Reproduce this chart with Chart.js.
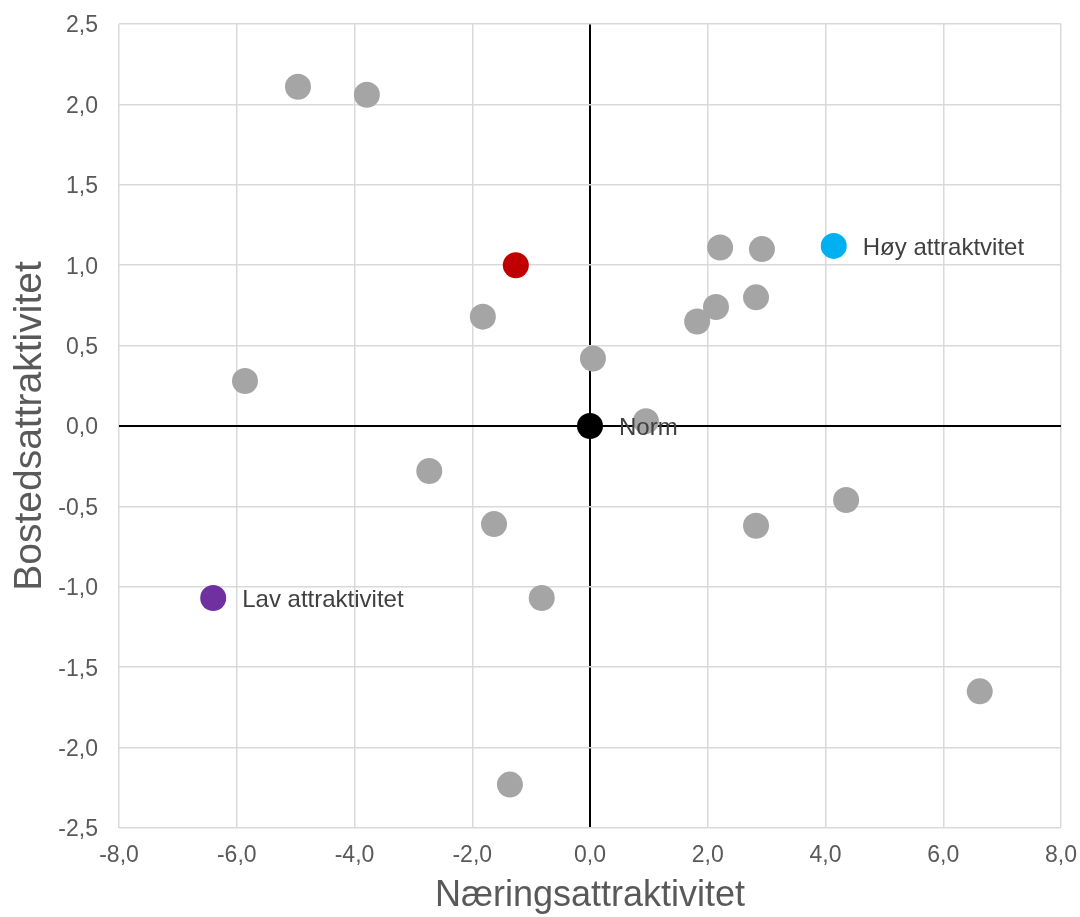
<!DOCTYPE html>
<html>
<head>
<meta charset="utf-8">
<script src="https://cdn.jsdelivr.net/npm/chart.js@4.4.1/dist/chart.umd.min.js"></script>
<style>
  html, body { margin: 0; padding: 0; background: #fff; }
  #wrap { width: 1080px; height: 917px; }
</style>
</head>
<body>
<div id="wrap"><canvas id="myChart" width="1080" height="917"></canvas></div>
<script>
// kommuner (grå punkter)
const grayX = [-4.96, -3.79, 2.21, 2.92, -1.82, 2.14, 2.82, 1.82, 0.05, -5.86, 0.95, -2.73, 4.35, -1.63, 2.82, -0.82, 6.62, -1.36];
const grayY = [2.11, 2.06, 1.11, 1.10, 0.68, 0.74, 0.80, 0.65, 0.42, 0.28, 0.03, -0.28, -0.46, -0.61, -0.62, -1.07, -1.65, -2.23];

// markerte punkter
const markNames = ["", "Norm", "Høy attraktvitet", "Lav attraktivitet"];
const markX = [-1.26, 0, 4.14, -6.40];
const markY = [1.00, 0, 1.12, -1.07];
const markColors = ["#C00000", "#000000", "#00B0F0", "#7030A0"];

const xTicks = [-8, -6, -4, -2, 0, 2, 4, 6, 8];
const yTicks = [-2.5, -2, -1.5, -1, -0.5, 0, 0.5, 1, 1.5, 2, 2.5];

const fontFam = "'Liberation Sans', Arial, sans-serif";

const grayPoints = grayX.map((x, i) => ({ x: x, y: grayY[i] }));
const markPoints = markX.map((x, i) => ({ x: x, y: markY[i], name: markNames[i] }));

const pointLabels = {
  id: "pointLabels",
  afterDatasetsDraw(chart) {
    const ctx = chart.ctx;
    const meta = chart.getDatasetMeta(0);
    ctx.save();
    ctx.font = "24px " + fontFam;
    ctx.fillStyle = "#404040";
    ctx.textAlign = "left";
    ctx.textBaseline = "middle";
    meta.data.forEach((el, i) => {
      const name = markPoints[i].name;
      if (name) ctx.fillText(name, el.x + 29, el.y + 2);
    });
    ctx.restore();
  }
};

const gridColor = (c) => (c.tick && c.tick.value === 0 ? "#000000" : "#D9D9D9");
const gridWidth = (c) => (c.tick && c.tick.value === 0 ? 2 : 1.5);
const fmt = (v) => v.toFixed(1).replace(".", ",");

// fjern ekstra padding fra tick-etikettene
const noPad = (s) => {
  s.paddingTop = 0;
  s.paddingBottom = 0;
  s.paddingLeft = 0;
  s.paddingRight = 0;
};

new Chart(document.getElementById("myChart"), {
  type: "scatter",
  data: {
    datasets: [
      {
        label: "Markert",
        data: markPoints,
        backgroundColor: markColors,
        pointRadius: 13,
        pointHoverRadius: 13,
        borderWidth: 0,
      },
      {
        label: "Kommuner",
        data: grayPoints,
        backgroundColor: "#A5A5A5",
        pointRadius: 13,
        pointHoverRadius: 13,
        borderWidth: 0,
      },
    ],
  },
  options: {
    responsive: false,
    devicePixelRatio: 1,
    animation: false,
    layout: { padding: { top: 24, right: 19, left: 0, bottom: 0 } },
    plugins: {
      legend: { display: false },
      tooltip: { enabled: false },
    },
    scales: {
      x: {
        type: "linear",
        min: -8,
        max: 8,
        afterBuildTicks: (s) => { s.ticks = xTicks.map((v) => ({ value: v })); },
        afterFit: (s) => { s.height = 89; noPad(s); },
        grid: { color: gridColor, lineWidth: gridWidth, drawTicks: false },
        border: { display: false },
        ticks: {
          color: "#595959",
          padding: 14,
          font: { size: 23, family: fontFam },
          callback: (v) => fmt(v),
        },
        title: {
          display: true,
          text: "Næringsattraktivitet",
          color: "#595959",
          font: { size: 36, family: fontFam },
          padding: { top: 0, bottom: -1 },
        },
      },
      y: {
        type: "linear",
        min: -2.5,
        max: 2.5,
        afterBuildTicks: (s) => { s.ticks = yTicks.map((v) => ({ value: v })); },
        afterFit: (s) => { s.width = 119; noPad(s); },
        grid: { color: gridColor, lineWidth: gridWidth, drawTicks: false },
        border: { display: false },
        ticks: {
          color: "#595959",
          padding: 21,
          labelOffset: 2,
          font: { size: 23, family: fontFam },
          callback: (v) => fmt(v),
        },
        title: {
          display: true,
          text: "Bostedsattraktivitet",
          color: "#595959",
          font: { size: 39, family: fontFam },
          padding: { top: 7, bottom: 0 },
        },
      },
    },
  },
  plugins: [pointLabels],
});
</script>
</body>
</html>
